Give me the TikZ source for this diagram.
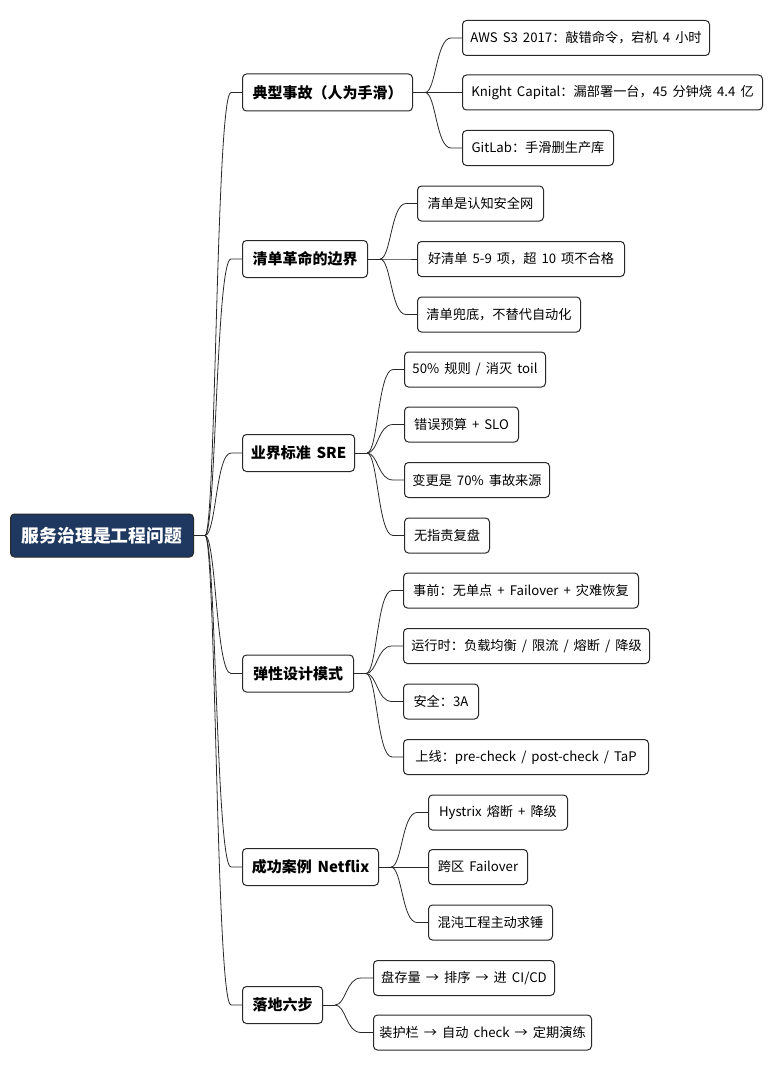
\documentclass[tikz,border=0pt]{standalone}
\usepackage{fontspec}
\setmainfont{Noto Sans CJK SC}[WordSpace=1.7]
\usetikzlibrary{calc}
\definecolor{rootfill}{RGB}{31,56,96}
\definecolor{edge}{RGB}{40,40,40}
\begin{document}
\begin{tikzpicture}[x=1pt,y=-1pt,
  rootbox/.style={draw=edge,line width=1pt,rounded corners=4pt,fill=rootfill,text=white,
    font=\fontsize{17.8}{20}\selectfont\bfseries,minimum height=43pt,inner xsep=3pt,anchor=west},
  branchbox/.style={draw=edge,line width=1pt,rounded corners=4pt,fill=white,
    font=\fontsize{15}{17}\selectfont\bfseries,minimum height=37pt,inner xsep=3pt,anchor=west},
  leafbox/.style={draw=edge,line width=1pt,rounded corners=4pt,fill=white,
    font=\fontsize{13.2}{15}\selectfont,minimum height=35pt,inner xsep=3pt,anchor=west},
  link/.style={draw=edge,line width=0.8pt},
  curve/.style={link,to path={.. controls ($(\tikztostart)+(11,0)$) and ($(\tikztostart |- \tikztotarget)+(11,0)$) .. ($(\tikztostart |- \tikztotarget)+(26,0)$) -- (\tikztotarget)}}
]
\useasboundingbox (0,0) rectangle (783,1070);

% root
\node[rootbox,minimum width=183pt] (root) at (10,535.5) {服务治理是工程问题};
\coordinate (jr) at ($(root.east)+(11,0)$);

% branches
\node[branchbox,minimum width=170pt] (b1) at (242,92.5) {典型事故（人为手滑）};
\node[branchbox,minimum width=125pt] (b2) at (242,259) {清单革命的边界};
\node[branchbox,minimum width=112pt] (b3) at (242,453) {业界标准 SRE};
\node[branchbox,minimum width=111pt] (b4) at (242,673.5) {弹性设计模式};
\node[branchbox,minimum width=136pt] (b5) at (242,867) {成功案例 Netflix};
\node[branchbox,minimum width=80pt] (b6) at (242,1005) {落地六步};

% leaves of b1
\node[leafbox,minimum width=247pt] (l11) at (462,38) {AWS S3 2017：敲错命令，宕机 4 小时};
\node[leafbox,minimum width=300pt] (l12) at (462,92.5) {Knight Capital：漏部署一台，45 分钟烧 4.4 亿};
\node[leafbox,minimum width=151pt] (l13) at (462,148) {GitLab：手滑删生产库};
% leaves of b2
\node[leafbox,minimum width=126pt] (l21) at (417,203.5) {清单是认知安全网};
\node[leafbox,minimum width=207pt] (l22) at (417,259) {好清单 5-9 项，超 10 项不合格};
\node[leafbox,minimum width=163pt] (l23) at (417,314.5) {清单兜底，不替代自动化};
% leaves of b3
\node[leafbox,minimum width=141pt] (l31) at (404,369.5) {50\% 规则 / 消灭 toil};
\node[leafbox,minimum width=114pt] (l32) at (404,424.5) {错误预算 + SLO};
\node[leafbox,minimum width=145pt] (l33) at (404,480) {变更是 70\% 事故来源};
\node[leafbox,minimum width=85pt] (l34) at (404,535.5) {无指责复盘};
% leaves of b4
\node[leafbox,minimum width=235pt] (l41) at (403,590.5) {事前：无单点 + Failover + 灾难恢复};
\node[leafbox,minimum width=246pt] (l42) at (403,646) {运行时：负载均衡 / 限流 / 熔断 / 降级};
\node[leafbox,minimum width=75pt] (l43) at (403,701.5) {安全：3A};
\node[leafbox,minimum width=245pt] (l44) at (403,757) {上线：pre-check / post-check / TaP};
% leaves of b5
\node[leafbox,minimum width=139pt] (l51) at (428,812.5) {Hystrix 熔断 + 降级};
\node[leafbox,minimum width=99pt] (l52) at (428,867) {跨区 Failover};
\node[leafbox,minimum width=124pt] (l53) at (428,922.5) {混沌工程主动求锤};
% leaves of b6
\node[leafbox,minimum width=181pt] (l61) at (373,978) {盘存量 → 排序 → 进 CI/CD};
\node[leafbox,minimum width=218pt] (l62) at (373,1032.5) {装护栏 → 自动 check → 定期演练};

% root connectors
\draw[link] (root.east) -- (jr);
\foreach \b in {b1,b2,b3,b4,b5,b6} \draw[curve] (jr) to (\b.west);

% branch junctions
\foreach \b/\leaves in {b1/{l11,l12,l13},b2/{l21,l22,l23},b3/{l31,l32,l33,l34},b4/{l41,l42,l43,l44},b5/{l51,l52,l53},b6/{l61,l62}}{
  \coordinate (j\b) at ($(\b.east)+(12,0)$);
  \draw[link] (\b.east) -- (j\b);
  \foreach \l in \leaves \draw[curve] (j\b) to (\l.west);
}
\end{tikzpicture}
\end{document}
